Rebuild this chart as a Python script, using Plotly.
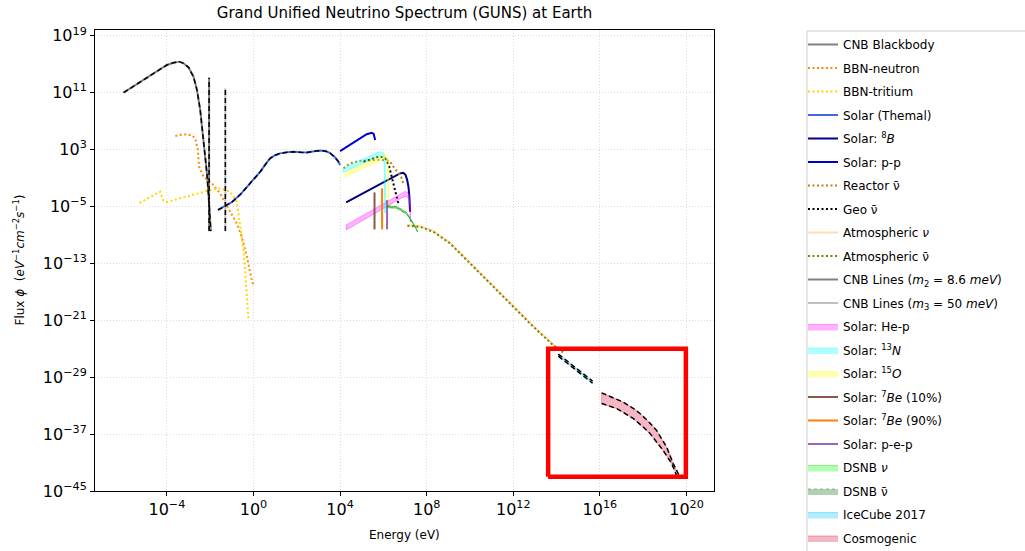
import plotly.graph_objects as go

# ---------------- data: log10(E / eV) and log10(flux) ----------------
cnb_logE = [-6.0, -5.0, -4.0, -3.7, -3.43, -3.23, -3.0, -2.77, -2.61, -2.46, -2.31, -2.15, -2.04, -1.97]
cnb_logF = [11.0, 12.95, 14.88, 15.2, 15.35, 15.12, 14.55, 13.23, 11.36, 8.55, 4.33, -0.35, -5.05, -8.47]

bbn_n_logE = [-3.61, -3.3, -3.07, -2.85, -2.69, -2.57, -2.51, -2.31, -1.92, -1.54, -1.38, -1.08, -0.77, -0.54, -0.3, -0.15, 0.0]
bbn_n_logF = [4.9, 5.1, 5.13, 5.0, 4.57, 2.93, 0.58, -0.83, -1.76, -3.17, -4.1, -5.75, -7.39, -9.26, -12.1, -14.4, -16.2]

bbn_t_logE = [-5.27, -4.8, -4.31, -4.18, -4.0, -3.4, -2.6, -1.85, -1.54, -1.08, -0.77, -0.61, -0.46, -0.38, -0.3, -0.23]
bbn_t_logF = [-4.5, -3.7, -2.94, -4.1, -4.4, -3.87, -3.2, -2.6, -2.46, -2.94, -4.35, -7.86, -11.14, -14.4, -17.7, -21.0]

thermal_logE = [-1.64, -1.3, -1.0, -0.6, -0.3, 0.0, 0.31, 0.55, 0.77, 1.0, 1.23, 1.55, 1.85, 2.2, 2.46, 2.8, 3.08, 3.35, 3.54, 3.75, 3.9, 4.0]
thermal_logF = [-5.5, -4.95, -4.4, -3.3, -2.3, -1.2, -0.13, 0.9, 1.76, 2.2, 2.46, 2.62, 2.69, 2.6, 2.58, 2.75, 2.85, 2.75, 2.5, 1.95, 1.4, 0.82]

b8_logE = [4.28, 5.0, 5.5, 6.0, 6.5, 6.77, 6.92, 7.02, 7.1, 7.16, 7.2, 7.23]
b8_logF = [-4.43, -3.25, -2.45, -1.6, -0.8, -0.35, -0.27, -0.55, -1.3, -2.3, -3.6, -5.75]

pp_logE = [4.0, 4.5, 5.0, 5.23, 5.46, 5.55, 5.62]
pp_logF = [2.78, 3.79, 4.8, 5.15, 5.36, 5.2, 4.33]

reactor_logE = [4.16, 4.46, 4.9, 5.39, 5.8, 6.16, 6.35, 6.46, 6.62, 6.77, 6.85, 6.92]
reactor_logF = [0.35, 1.05, 1.4, 1.52, 1.55, 1.52, 1.1, 0.58, 0.0, -0.6, -1.06, -1.76]

geo_logE = [5.08, 5.4, 5.77, 5.95, 6.08, 6.25, 6.39, 6.5, 6.58, 6.65, 6.69]
geo_logF = [1.28, 1.6, 1.98, 1.95, 1.76, 0.8, -0.83, -2.3, -3.3, -4.1, -4.57]

atm_logE = [7.11, 7.69, 8.31, 9.08, 9.85, 10.62, 11.38, 12.16, 12.92, 13.84, 14.3]
atm_logF = [-7.72, -7.86, -8.57, -10.2, -12.55, -14.9, -17.2, -19.5, -21.9, -24.5, -25.5]

cnb_line_m2_logE = -2.05
cnb_line_m3_logE = -1.30
cnb_line_m2_logF = [-8.47, 13.1]
cnb_line_m3_logF = [-8.47, 11.6]

hep_logE = [4.28, 5.0, 5.5, 6.0, 6.5, 6.85, 7.0, 7.12, 7.2, 7.25]
hep_hi = [-7.6, -6.35, -5.45, -4.55, -3.7, -3.1, -2.9, -3.0, -3.5, -6.5]
hep_lo = [-8.3, -7.05, -6.15, -5.25, -4.4, -3.8, -3.6, -3.7, -4.2, -7.2]

n13_up_logE = [4.15, 4.6, 5.0, 5.4, 5.7, 5.9, 6.03, 6.09, 6.10]
n13_up_logF = [0.4, 1.05, 1.6, 2.15, 2.55, 2.7, 2.5, 1.3, -5.9]
n13_lo_logE = [4.15, 4.6, 5.0, 5.4, 5.7, 5.88, 5.98, 6.04, 6.05]
n13_lo_logF = [-0.2, 0.45, 1.0, 1.55, 1.95, 2.1, 1.9, 0.8, -5.9]

o15_up_logE = [4.23, 4.6, 5.0, 5.4, 5.8, 6.05, 6.17, 6.24, 6.25]
o15_up_logF = [-0.3, 0.3, 0.9, 1.45, 2.0, 2.3, 2.1, 1.0, -4.6]
o15_lo_logE = [4.23, 4.6, 5.0, 5.4, 5.8, 6.02, 6.12, 6.19, 6.2]
o15_lo_logF = [-0.9, -0.3, 0.3, 0.85, 1.4, 1.7, 1.5, 0.4, -4.6]

be7_10_logE = 5.59
be7_90_logE = 5.94
pep_logE = 6.17
be7_10_logF = [-8.23, -3.03]
be7_90_logF = [-8.23, -2.46]
pep_logF = [-8.23, -4.1]

dsnb_logE = [6.2, 6.62, 7.08, 7.38, 7.57]
dsnb_hi = [-4.9, -4.98, -5.83, -7.24, -8.28]
dsnb_lo = [-5.2, -5.28, -6.13, -7.54, -8.58]

ice_logE = [14.08, 15.66]
ice_hi = [-25.75, -29.55]
ice_lo = [-26.05, -29.85]

cos_hi_logE = [16.08, 16.5, 17.07, 17.5, 17.85, 18.25, 18.62, 19.08, 19.38, 19.66]
cos_hi_logF = [-31.2, -31.8, -32.5, -33.3, -34.1, -35.25, -36.5, -38.8, -41.1, -42.8]
cos_lo_logE = [16.08, 16.4, 16.77, 17.2, 17.54, 18.0, 18.31, 18.92, 19.31, 19.54]
cos_lo_logF = [-32.7, -33.05, -33.4, -34.18, -34.8, -36.0, -36.9, -39.3, -41.1, -42.8]

box_logE = [13.61, 19.97]
box_logF = [-43.0, -25.0]

x_tick_exp = [-4, 0, 4, 8, 12, 16, 20]
y_tick_exp = [19, 11, 3, -5, -13, -21, -29, -37, -45]

# ---------------- helpers ----------------
def P(a):
    return [10.0 ** v for v in a]

FONT = "DejaVu Sans"
PLOT_T, PLOT_H, PLOT_L, PLOT_W = 30, 461, 95, 619
fig = go.Figure()
rank = [0]


def which_legend():
    return "legend" if rank[0] <= 11 else "legend2"


def line(xl, yl, name, color, dash="solid", width=1.5):
    rank[0] += 1
    fig.add_trace(go.Scatter(
        x=P(xl), y=P(yl), mode="lines", name=name,
        line=dict(color=color, dash=dash, width=width), legend=which_legend(),
        legendgroup="g%02d" % rank[0], hoverinfo="skip"))


def band(xu, yu, xl, yl, name, fill, edge, dash="solid"):
    rank[0] += 1
    xs = list(xu) + list(reversed(xl))
    ys = list(yu) + list(reversed(yl))
    xs.append(xs[0]); ys.append(ys[0])
    fig.add_trace(go.Scatter(
        x=P(xs), y=P(ys), mode="lines", fill="toself", name=name,
        fillcolor=fill, line=dict(color=edge, width=1, dash=dash), legend=which_legend(),
        legendgroup="g%02d" % rank[0], hoverinfo="skip"))


def overlay(xl, yl, width=1.5, dash="5px,3px"):
    fig.add_trace(go.Scatter(x=P(xl), y=P(yl), mode="lines", showlegend=False,
                             line=dict(color="black", dash=dash, width=width), hoverinfo="skip"))


DOT = "2px,2.5px"
# legend order traces
line(cnb_logE, cnb_logF, "CNB Blackbody", "gray", width=2)
line(bbn_n_logE, bbn_n_logF, "BBN-neutron", "darkorange", DOT, 2)
line(bbn_t_logE, bbn_t_logF, "BBN-tritium", "gold", DOT, 2)
line(thermal_logE, thermal_logF, "Solar (Themal)", "royalblue", width=2)
line(b8_logE, b8_logF, "Solar: <sup>8</sup><i>B</i>", "navy", width=2)
line(pp_logE, pp_logF, "Solar: p-p", "mediumblue", width=2)
line(reactor_logE, reactor_logF, "Reactor ν̄", "darkgoldenrod", DOT, 2)
line(geo_logE, geo_logF, "Geo ν̄", "black", DOT, 2)
line(atm_logE, [v + 0.1 for v in atm_logF], "Atmospheric <i>ν</i>", "navajowhite", width=2)
line(atm_logE, atm_logF, "Atmospheric ν̄", "olive", DOT, 2)
line([cnb_line_m2_logE] * 2, cnb_line_m2_logF, "CNB Lines (<i>m</i><sub>2</sub> = 8.6 <i>meV</i>)", "gray", width=2)
line([cnb_line_m3_logE] * 2, cnb_line_m3_logF, "CNB Lines (<i>m</i><sub>3</sub> = 50 <i>meV</i>)", "silver", width=2)
band(hep_logE, hep_hi, hep_logE, hep_lo, "Solar: He-p", "rgba(255,0,255,0.3)", "rgba(255,0,255,0.35)")
band(n13_up_logE, n13_up_logF, n13_lo_logE, n13_lo_logF, "Solar: <sup>13</sup><i>N</i>",
     "rgba(0,255,255,0.3)", "rgba(0,255,255,0.35)")
band(o15_up_logE, o15_up_logF, o15_lo_logE, o15_lo_logF, "Solar: <sup>15</sup><i>O</i>",
     "rgba(255,255,0,0.3)", "rgba(255,255,0,0.35)")
line([be7_10_logE] * 2, be7_10_logF, "Solar: <sup>7</sup><i>Be</i> (10%)", "#8c564b", width=2)
line([be7_90_logE] * 2, be7_90_logF, "Solar: <sup>7</sup><i>Be</i> (90%)", "#ff7f0e", width=2)
line([pep_logE] * 2, pep_logF, "Solar: p-e-p", "#9467bd", width=2)
band(dsnb_logE, dsnb_hi, dsnb_logE, dsnb_lo, "DSNB <i>ν</i>", "rgba(0,255,0,0.3)", "rgba(0,200,0,0.35)")
band(dsnb_logE, [v - 0.05 for v in dsnb_hi], dsnb_logE, [v + 0.05 for v in dsnb_lo], "DSNB ν̄",
     "rgba(0,100,0,0.3)", "rgba(0,100,0,0.4)", dash="dot")
band(ice_logE, ice_hi, ice_logE, ice_lo, "IceCube 2017", "rgba(0,191,255,0.3)", "rgba(0,191,255,0.35)")
band(cos_hi_logE, cos_hi_logF, cos_lo_logE, cos_lo_logF, "Cosmogenic", "rgba(220,20,60,0.3)", "rgba(220,20,60,0.35)")

# black dashed overlays (reference curves)
overlay(cnb_logE, cnb_logF)
overlay(thermal_logE, thermal_logF)
overlay([cnb_line_m2_logE] * 2, cnb_line_m2_logF)
overlay([cnb_line_m3_logE] * 2, cnb_line_m3_logF)
overlay(ice_logE, ice_hi)
overlay(ice_logE, ice_lo)
overlay(cos_hi_logE, cos_hi_logF)
overlay(cos_lo_logE, cos_lo_logF)

# red highlight box
fig.add_trace(go.Scatter(
    x=P([box_logE[0], box_logE[1], box_logE[1], box_logE[0], box_logE[0]]),
    y=P([box_logF[0], box_logF[0], box_logF[1], box_logF[1], box_logF[0]]),
    mode="lines", line=dict(color="red", width=4.5), showlegend=False, hoverinfo="skip"))


def sup(e):
    s = str(e).replace("-", "−")
    return "10<sup>%s</sup>" % s


axis_common = dict(
    type="log", showline=True, mirror=True, linecolor="black", linewidth=1,
    ticks="outside", ticklen=4, tickcolor="black", showgrid=True,
    gridcolor="#dcdcdc", griddash="1px,2px", gridwidth=1, zeroline=False,
    tickfont=dict(family=FONT, size=16, color="black"),
)
fig.update_xaxes(range=[-7.32, 21.27], tickvals=P(x_tick_exp), ticktext=[sup(e) for e in x_tick_exp], **axis_common)
fig.update_yaxes(range=[-45, 19.8], tickvals=P(y_tick_exp), ticktext=[sup(e) for e in y_tick_exp], **axis_common)


def px_to_paper_x(px):
    return (px - PLOT_L) / PLOT_W


def px_to_paper_y(py):
    return 1 - (py - PLOT_T) / PLOT_H


legend_common = dict(xanchor="left", yanchor="top", bgcolor="rgba(0,0,0,0)", borderwidth=0,
                     font=dict(size=12, family=FONT), tracegroupgap=4.5, traceorder="grouped")
fig.update_layout(
    width=1025, height=551,
    margin=dict(l=PLOT_L, r=1025 - PLOT_L - PLOT_W, t=PLOT_T, b=551 - PLOT_T - PLOT_H, autoexpand=False),
    paper_bgcolor="white", plot_bgcolor="white",
    font=dict(family=FONT, color="black"),
    title=dict(text="Grand Unified Neutrino Spectrum (GUNS) at Earth", x=0.5, xref="paper",
               y=1 - 13 / 551, yref="container", yanchor="middle", font=dict(size=15, family=FONT)),
    legend=dict(x=px_to_paper_x(803), y=px_to_paper_y(30), **legend_common),
    legend2=dict(x=px_to_paper_x(803), y=px_to_paper_y(30 + 11 * 23.5), **legend_common),
    showlegend=True,
)

# legend frame
fig.add_shape(type="rect", xref="paper", yref="paper",
              x0=px_to_paper_x(807), x1=px_to_paper_x(1040),
              y0=px_to_paper_y(560), y1=px_to_paper_y(31),
              line=dict(color="#cccccc", width=1), fillcolor="rgba(0,0,0,0)", layer="below")

fig.add_annotation(text="Energy (eV)", x=0.5, y=0, xref="paper", yref="paper", yanchor="top",
                   yshift=-35, showarrow=False, font=dict(size=12, family=FONT))
fig.add_annotation(text="Flux <i>ϕ</i>  (<i>eV</i><sup>−1</sup><i>cm</i><sup>−2</sup><i>s</i><sup>−1</sup>)",
                   x=(18 - 95) / 619, y=0.5, xref="paper", yref="paper", textangle=-90,
                   xanchor="center", yanchor="middle",
                   showarrow=False, font=dict(size=12, family=FONT))

fig.write_html("out.html")
